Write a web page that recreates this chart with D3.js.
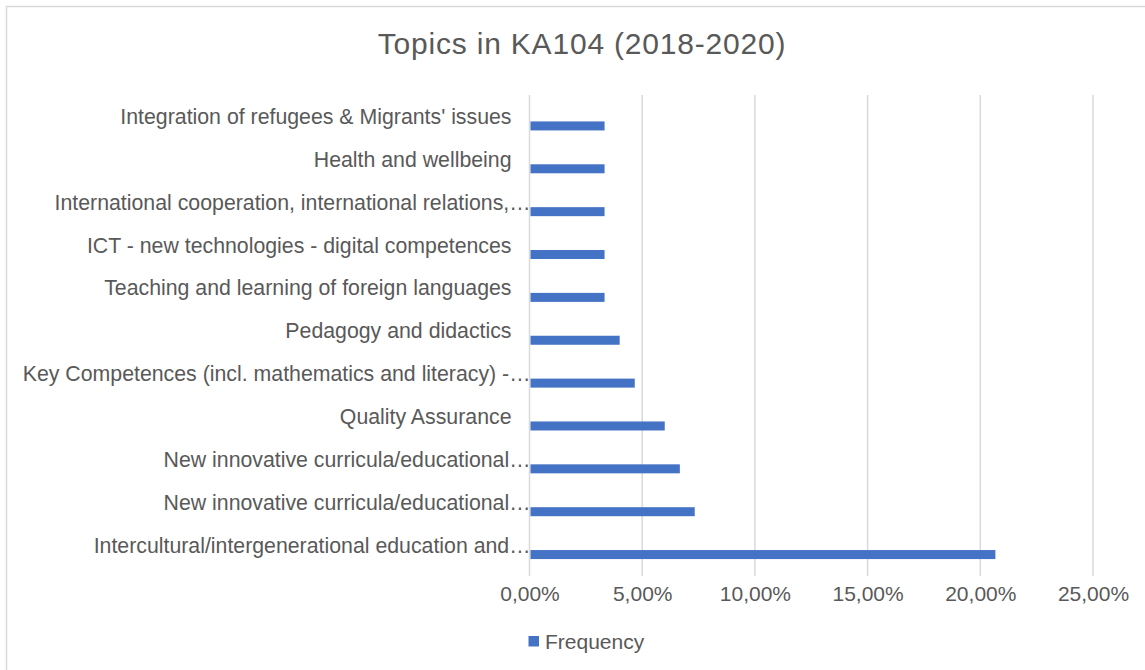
<!DOCTYPE html>
<html>
<head>
<meta charset="utf-8">
<script src="https://cdn.jsdelivr.net/npm/d3@7"></script>
<style>
  html, body { margin: 0; padding: 0; background: #fff; }
  svg { display: block; font-family: "Liberation Sans", Arial, sans-serif; }
</style>
</head>
<body>
<svg id="chart" width="1145" height="670"></svg>
<script>
// Topic labels, top to bottom as shown in the chart
const topics = [
  "Integration of refugees & Migrants' issues",
  "Health and wellbeing",
  "International cooperation, international relations,\u2026",
  "ICT - new technologies - digital competences",
  "Teaching and learning of foreign languages",
  "Pedagogy and didactics",
  "Key Competences (incl. mathematics and literacy) -\u2026",
  "Quality Assurance ",
  "New innovative curricula/educational\u2026",
  "New innovative curricula/educational\u2026 ",
  "Intercultural/intergenerational education and\u2026"
];
// Share of projects per topic (fraction)
const frequency = [0.0333, 0.0333, 0.0333, 0.0333, 0.0333, 0.04, 0.0467, 0.06, 0.0667, 0.0733, 0.2067];
const xTicks = [0, 0.05, 0.10, 0.15, 0.20, 0.25];
const seriesName = "Frequency";
const chartTitle = "Topics in KA104 (2018-2020)";

const svg = d3.select("#chart");
const barColor = "#4472C4";
const textColor = "#595959";
const gridColor = "#d9d9d9";
const fontSize = 21.3;

// chart frame
svg.append("rect")
  .attr("x", 6.5).attr("y", 6.5)
  .attr("width", 1145).attr("height", 670)
  .attr("fill", "#fff").attr("stroke", gridColor).attr("stroke-width", 1.5);

const plot = { left: 529.5, right: 1093, top: 104.5, bottom: 576 };

const x = d3.scaleLinear().domain([0, 0.25]).range([plot.left, plot.right]);
const y = d3.scaleBand().domain(topics).range([plot.top, plot.bottom]).paddingInner(0.79).paddingOuter(0.395);

// title
svg.append("text")
  .attr("x", 582).attr("y", 54)
  .attr("text-anchor", "middle")
  .attr("font-size", 30)
  .attr("letter-spacing", 0.8)
  .attr("fill", textColor)
  .text(chartTitle);

// vertical gridlines
svg.append("g")
  .selectAll("line")
  .data(xTicks)
  .join("line")
  .attr("x1", d => x(d)).attr("x2", d => x(d))
  .attr("y1", 95).attr("y2", plot.bottom)
  .attr("stroke", gridColor).attr("stroke-width", 1.5);

// x axis tick labels
const fmt = d => d3.format(".2f")(d * 100).replace(".", ",") + "%";
const xAxis = d3.axisBottom(x).tickValues(xTicks).tickFormat(fmt).tickSize(0).tickPadding(0);
const gx = svg.append("g").attr("transform", `translate(0,601)`).call(xAxis);
gx.select(".domain").remove();
gx.selectAll("text")
  .attr("y", 0)
  .attr("dy", 0)
  .attr("font-size", 21)
  .attr("font-family", "Liberation Sans, Arial, sans-serif")
  .attr("fill", textColor);

// category labels; truncated ones let the ellipsis run past the label margin
const yAxis = d3.axisLeft(y).tickSize(0).tickPadding(18);
const gy = svg.append("g").attr("transform", `translate(${plot.left},0)`).call(yAxis);
gy.select(".domain").remove();
gy.selectAll("text")
  .attr("font-size", fontSize)
  .attr("font-family", "Liberation Sans, Arial, sans-serif")
  .attr("fill", textColor)
  .attr("dy", "-0.09em")
  .attr("x", d => d.trim().endsWith("\u2026") ? 1 : -18);

// bars
svg.append("g")
  .selectAll("rect")
  .data(topics.map((t, i) => ({ topic: t, value: frequency[i] })))
  .join("rect")
  .attr("x", x(0) + 1)
  .attr("y", d => y(d.topic))
  .attr("width", d => x(d.value) - x(0) - 1)
  .attr("height", y.bandwidth())
  .attr("fill", barColor);

// legend
svg.append("rect")
  .attr("x", 528.5).attr("y", 636)
  .attr("width", 10.5).attr("height", 10.5)
  .attr("fill", barColor);
svg.append("text")
  .attr("x", 545).attr("y", 649)
  .attr("font-size", 21)
  .attr("fill", textColor)
  .text(seriesName);
</script>
</body>
</html>
